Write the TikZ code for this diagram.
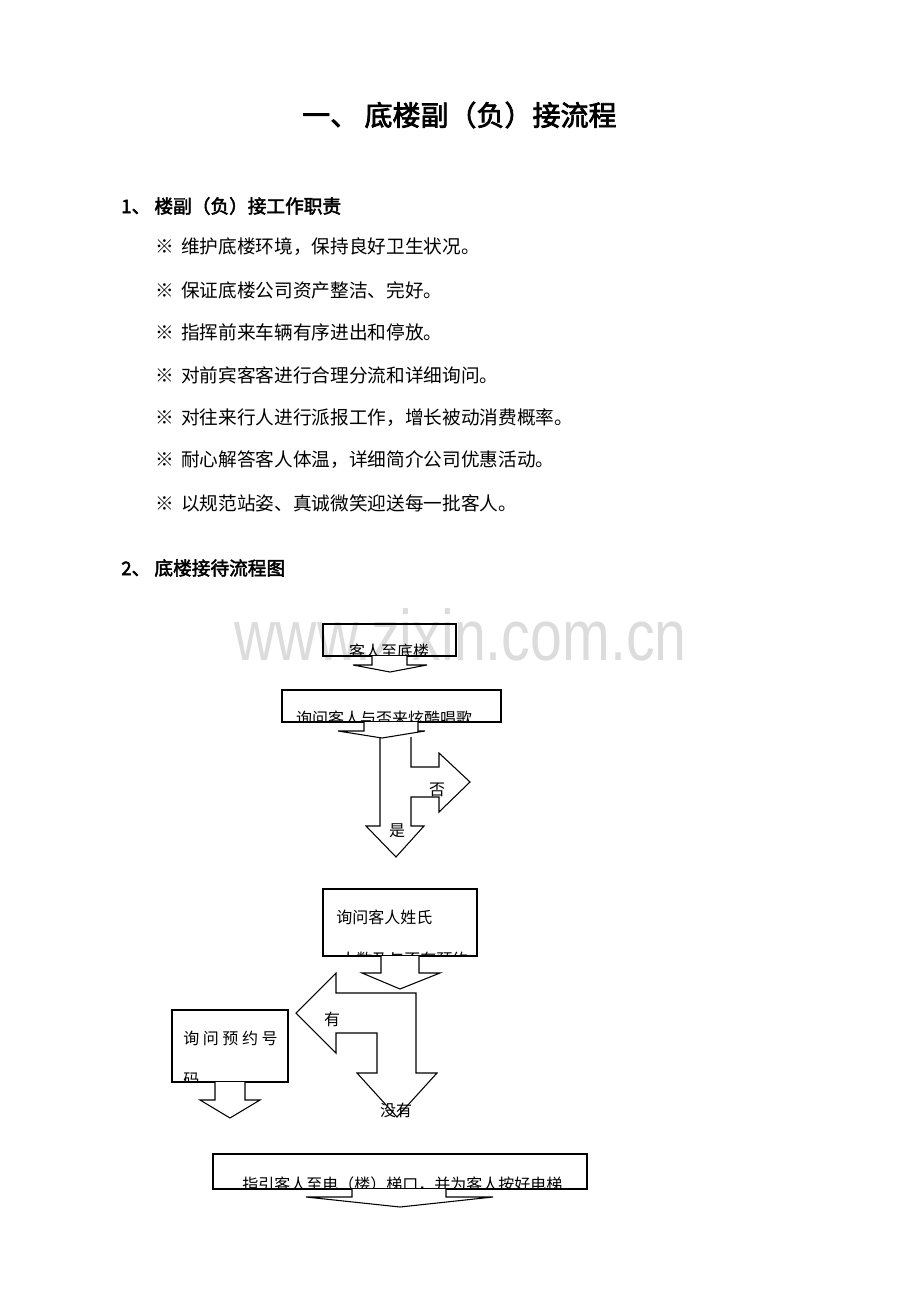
\documentclass[tikz,border=0pt]{standalone}
\usepackage{fontspec}
\setmainfont{Noto Sans CJK SC}
\newfontfamily\cjkbold[FakeBold=2.5]{Noto Sans CJK SC}
\newfontfamily\wmfont{Liberation Sans}
\usepackage{tikz}
\usetikzlibrary{calc}
\definecolor{watermark}{RGB}{220,220,220}
\newcommand{\bul}{\makebox[19.5pt][l]{※}}

\begin{document}
\begin{tikzpicture}[
    x=0.75pt, y=-0.75pt,
    flowbox/.style={draw, line width=0.8pt, inner sep=0pt},
    blockarrow/.style={draw, fill=white, line width=0.8pt, line join=miter},
    boxtext/.style={anchor=west, inner sep=0pt, font=\fontsize{12}{14}\selectfont},
    flowlabel/.style={inner sep=0pt, font=\fontsize{12}{14}\selectfont},
    bodytext/.style={anchor=west, inner sep=0pt, font=\fontsize{14}{16}\selectfont},
    headtext/.style={anchor=west, inner sep=0pt, font=\cjkbold\fontsize{14}{16}\selectfont}
]
    \useasboundingbox (0,0) rectangle (920,1302);

    % Watermark
    \node[anchor=base west, inner sep=0pt, text=watermark] (wm) at (234,660)
        {\scalebox{1}[1.25]{\wmfont\fontsize{43}{43}\selectfont www.zixin.com.cn}};

    % Title and duties
    \node[anchor=west, inner sep=0pt, font=\cjkbold\fontsize{21}{24}\selectfont] (title) at (302,115) {一、 底楼副（负）接流程};
    \node[headtext] (duty) at (121,206) {1、 楼副（负）接工作职责};
    \node[bodytext] (d1) at (155,247) {\bul 维护底楼环境，保持良好卫生状况。};
    \node[bodytext] (d2) at (155,290) {\bul 保证底楼公司资产整洁、完好。};
    \node[bodytext] (d3) at (155,332) {\bul 指挥前来车辆有序进出和停放。};
    \node[bodytext] (d4) at (155,375) {\bul 对前宾客客进行合理分流和详细询问。};
    \node[bodytext] (d5) at (155,418) {\bul 对往来行人进行派报工作，增长被动消费概率。};
    \node[bodytext] (d6) at (155,460) {\bul 耐心解答客人体温，详细简介公司优惠活动。};
    \node[bodytext] (d7) at (155,503) {\bul 以规范站姿、真诚微笑迎送每一批客人。};
    \node[headtext] (flow) at (121,568) {2、 底楼接待流程图};

    % Flow boxes
    \node[flowbox, minimum width=99.75pt, minimum height=24pt] (arrive) at (389.5,640) {};
    \node[flowbox, minimum width=164.25pt, minimum height=24pt] (askSing) at (391.5,706) {};
    \node[flowbox, minimum width=115.5pt, minimum height=50.25pt] (askName) at (400,922.5) {};
    \node[flowbox, minimum width=87pt, minimum height=54pt] (askResv) at (230,1046) {};
    \node[flowbox, minimum width=280.5pt, minimum height=26.25pt] (guide) at (400,1171.5) {};

    % Box texts (cut off by the box bottom)
    \begin{scope}
        \clip (arrive.north west) rectangle (arrive.south east);
        \node[flowlabel] (arriveTxt) at (389,651) {客人至底楼};
    \end{scope}
    \begin{scope}
        \clip (askSing.north west) rectangle (askSing.south east);
        \node[flowlabel] (askSingTxt) at (384,718) {询问客人与否来炫酷唱歌};
    \end{scope}
    \begin{scope}
        \clip (askName.north west) rectangle (askName.south east);
        \node[boxtext] (askNameTxt) at (336,917) {询问客人姓氏};
        \node[boxtext] (askNameTxtB) at (340,959) {人数及与否有预约};
    \end{scope}
    \begin{scope}
        \clip (askResv.north west) rectangle (askResv.south east);
        \node[boxtext] (askResvTxt) at (183,1038) {询 问 预 约 号};
        \node[boxtext] (askResvTxtB) at (183,1080) {码};
    \end{scope}
    \begin{scope}
        \clip (guide.north west) rectangle (guide.south east);
        \node[boxtext] (guideTxt) at (242,1184) {指引客人至电（楼）梯口，并为客人按好电梯};
    \end{scope}

    % Block arrows
    \draw[blockarrow] (372,656) -- (372,665) -- (353,665) -- (390,672) -- (427,665) -- (407,665) -- (407,656);
    \draw[blockarrow] (380,737) -- (380,826) -- (366,826) -- (396,857) -- (424,826) -- (411,826)
        -- (411,797) -- (439,797) -- (439,812) -- (470,782) -- (439,753) -- (439,767) -- (411,767) -- (411,737);
    \draw[blockarrow] (364,722) -- (364,731) -- (338,731) -- (382,738) -- (425,731) -- (418,731) -- (418,722);
    \draw[blockarrow] (381,956) -- (381,973) -- (362,973) -- (400,989) -- (440,973) -- (419,973) -- (419,956);
    \draw[blockarrow] (336,993) -- (416,993) -- (416,1073) -- (437,1073) -- (397,1117) -- (357,1073)
        -- (377,1073) -- (377,1033) -- (336,1033) -- (336,1053) -- (296,1013) -- (336,973) -- cycle;
    \draw[blockarrow] (215,1082) -- (215,1100) -- (200,1100) -- (230,1118) -- (260,1100) -- (245,1100) -- (245,1082);
    \draw[blockarrow] (352,1189) -- (352,1197) -- (306,1197) -- (400,1207) -- (493,1197) -- (446,1197) -- (446,1189);

    % Branch labels
    \node[flowlabel] (no) at (437,790) {否};
    \node[flowlabel] (yes) at (397,831) {是};
    \node[flowlabel] (have) at (332,1019) {有};
    \node[flowlabel] (none) at (396,1110) {没有};
\end{tikzpicture}
\end{document}
